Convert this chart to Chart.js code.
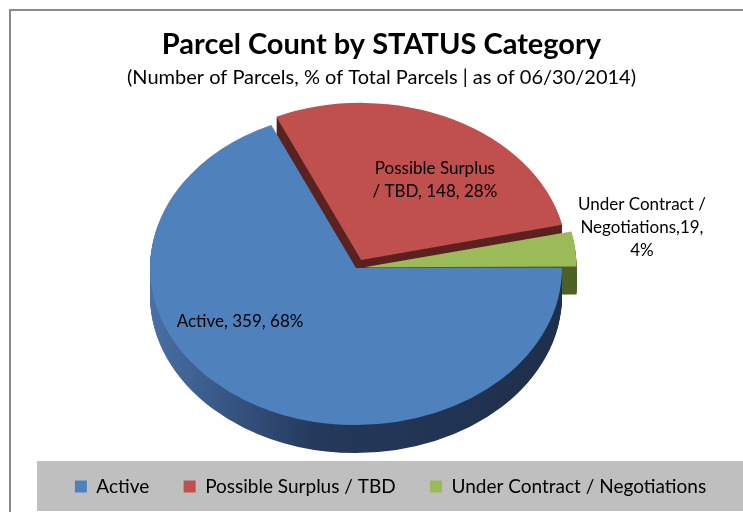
<!DOCTYPE html>
<html><head><meta charset="utf-8">
<script src="https://cdn.jsdelivr.net/npm/chart.js@4/dist/chart.umd.min.js"></script>
<style>html,body{margin:0;padding:0;background:#fff}#wrap{width:743px;height:512px;position:relative}</style>
</head><body><div id="wrap"><canvas id="c" width="743" height="512"></canvas></div>
<script>
// ---- data ----
const categories = ['Active', 'Possible Surplus / TBD', 'Under Contract / Negotiations'];
const parcelCounts = [359, 148, 19];
const titleText = 'Parcel Count by STATUS Category';
const subtitleText = '(Number of Parcels, % of Total Parcels | as of 06/30/2014)';

// ---- style ----
const topColors = ['#4F81BD', '#C0504D', '#9BBB59'];
const sideColors = ['#243a5e', '#5c2220', '#4e6127'];
const explode = [0, 34, 24];
const FONT = 'Lato';
const ELL = { cx: 356, cy: 268, rx: 206, ry: 157 };
const DEPTH = 28;
const LEGEND_SHIFT = 9;
const labelAnchors = [[-0.563, 0.344], [0.383, -0.56], [1.388, -0.255]];

const total = parcelCounts.reduce((a, b) => a + b, 0);
const pcts = parcelCounts.map(v => Math.round(v / total * 100));
const labelLines = [
  [`${categories[0]}, ${parcelCounts[0]}, ${pcts[0]}%`],
  ['Possible Surplus', `/ TBD, ${parcelCounts[1]}, ${pcts[1]}%`],
  ['Under Contract /', `Negotiations,${parcelCounts[2]},`, `${pcts[2]}%`]
];

function ellipseTransform(ctx, arc, dy) {
  const r = arc.outerRadius;
  ctx.translate(ELL.cx, ELL.cy + dy);
  ctx.scale(ELL.rx / r, ELL.ry / r);
  ctx.translate(-arc.x, -arc.y);
}

const pie3d = {
  id: 'pie3d',
  afterLayout(chart) {
    if (chart.legend) {
      chart.legend.left += LEGEND_SHIFT;
      chart.legend.right += LEGEND_SHIFT;
    }
  },
  beforeDraw(chart) {
    const ctx = chart.ctx;
    ctx.save();
    ctx.fillStyle = '#8a8a8a';
    ctx.fillRect(9, 9, 734, 2);
    ctx.fillRect(9, 9, 2, 503);
    ctx.fillStyle = '#bfbfbf';
    ctx.fillRect(37, 461, 706, 50);
    ctx.restore();
  },
  beforeDatasetsDraw(chart) {
    const ctx = chart.ctx;
    const arcs = chart.getDatasetMeta(0).data;
    const a0 = arcs[0];
    const order = [1, 2, 0];
    for (let d = DEPTH; d >= 1; d--) {
      order.forEach(i => {
        const arc = arcs[i];
        ctx.save();
        ellipseTransform(ctx, a0, d);
        let fill = sideColors[i];
        if (i === 0) {
          const g = ctx.createLinearGradient(a0.x - a0.outerRadius, 0, a0.x + a0.outerRadius, 0);
          g.addColorStop(0, '#4a70a6');
          g.addColorStop(0.15, '#3a5b8a');
          g.addColorStop(0.4, '#25395c');
          g.addColorStop(1, '#1e2f4b');
          fill = g;
        }
        const proxy = Object.create(arc);
        proxy.options = Object.assign({}, arc.options, { backgroundColor: fill, borderWidth: 0 });
        arc.draw.call(proxy, ctx);
        ctx.restore();
      });
    }
    ctx.save();
    ellipseTransform(ctx, a0, 0);
  },
  afterDatasetsDraw(chart) {
    const ctx = chart.ctx;
    ctx.restore();
    ctx.save();
    ctx.fillStyle = '#000';
    ctx.font = `17px ${FONT}`;
    ctx.textAlign = 'center';
    ctx.textBaseline = 'middle';
    const lh = 23;
    labelLines.forEach((lines, i) => {
      const x = ELL.cx + labelAnchors[i][0] * ELL.rx;
      const y = ELL.cy + labelAnchors[i][1] * ELL.ry;
      const y0 = y - (lines.length - 1) * lh / 2;
      lines.forEach((t, k) => ctx.fillText(t, x, y0 + k * lh));
    });
    ctx.restore();
  }
};

new Chart(document.getElementById('c'), {
  type: 'pie',
  data: {
    labels: categories,
    datasets: [{
      data: parcelCounts,
      backgroundColor: topColors,
      borderWidth: 0,
      offset: explode
    }]
  },
  options: {
    responsive: false,
    animation: false,
    events: [],
    rotation: 90,
    radius: 150,
    layout: { padding: { left: 20, right: 0, top: 0, bottom: 6 } },
    plugins: {
      title: {
        display: true, text: titleText, color: '#000',
        font: { family: FONT, size: 29, weight: 'bold' },
        padding: { top: 27, bottom: 4 }
      },
      subtitle: {
        display: true, text: subtitleText, color: '#000',
        font: { family: FONT, size: 20, weight: 'normal' },
        padding: { top: 0, bottom: 10 }
      },
      legend: {
        position: 'bottom',
        labels: {
          color: '#000', boxWidth: 12, boxHeight: 12,
          font: { family: FONT, size: 19 },
          padding: 10,
          generateLabels(chart) {
            const items = Chart.overrides.pie.plugins.legend.labels.generateLabels(chart);
            items.forEach((it, i) => {
              if (i < items.length - 1) it.text = it.text + '\u00a0\u00a0\u00a0\u00a0\u00a0';
              it.lineWidth = 0;
            });
            return items;
          }
        }
      },
      tooltip: { enabled: false }
    }
  },
  plugins: [pie3d]
});
</script>
</body></html>
